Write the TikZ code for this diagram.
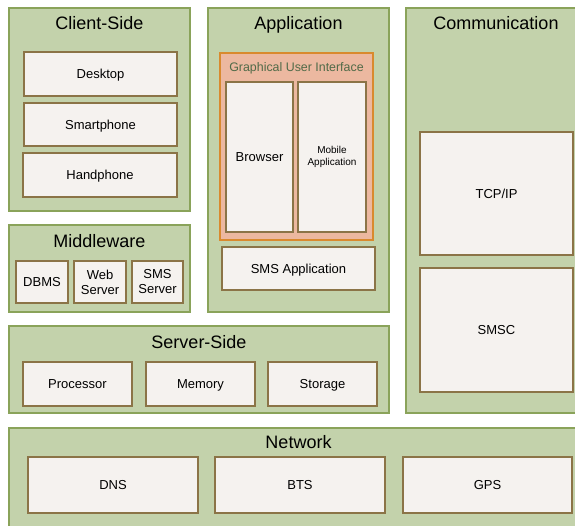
\documentclass[tikz,border=0pt]{standalone}
\usepackage{fontspec}
\setmainfont{Liberation Sans}
\usetikzlibrary{fit}
\definecolor{grpfill}{HTML}{C3D2AB}
\definecolor{grpline}{HTML}{8AA35A}
\definecolor{itemfill}{HTML}{F5F2EF}
\definecolor{itemline}{HTML}{8B7447}
\definecolor{guifill}{HTML}{ECB8A0}
\definecolor{guiline}{HTML}{D98A2E}
\definecolor{guitext}{HTML}{506A48}
\tikzset{
  grp/.style={draw=grpline, fill=grpfill, line width=1.3pt, inner sep=0pt},
  item/.style={draw=itemline, fill=itemfill, line width=1.3pt, inner sep=0pt},
  itemtext/.style={font=\fontsize{13}{15}\selectfont, anchor=base, inner sep=0pt, yshift=-4.6pt},
  twoline/.style={font=\fontsize{13}{15}\selectfont, align=center, inner sep=0pt},
  smalltext/.style={font=\fontsize{10}{12}\selectfont, align=center, inner sep=0pt},
  gui/.style={draw=guiline, fill=guifill, line width=1.3pt, inner sep=0pt},
  grptitle/.style={font=\fontsize{18}{21}\selectfont, anchor=base, inner sep=0pt},
}
\begin{document}
\begin{tikzpicture}[x=1pt, y=-1pt]
\useasboundingbox (0,0) rectangle (575,525);
\begin{scope}
\clip (0,0) rectangle (575,525);
% Client side
\node[grp, fit={(9,8) (190,211)}] (client) {};
\node[grptitle] (clientT) at (99.5,29) {Client-Side};
\node[item, fit={(24,52) (177,96)}] (desktop) {};
\node[itemtext] (desktopT) at (desktop.center) {Desktop};
\node[item, fit={(24,103) (177,146)}] (smart) {};
\node[itemtext] (smartT) at (smart.center) {Smartphone};
\node[item, fit={(23,153) (177,197)}] (hand) {};
\node[itemtext] (handT) at (hand.center) {Handphone};
% Application
\node[grp, fit={(208,8) (389,312)}] (app) {};
\node[grptitle] (appT) at (298.5,29) {Application};
\node[gui, fit={(220,53) (373,240)}] (gui) {};
\node[font=\fontsize{12.4}{14}\selectfont, text=guitext, anchor=base, inner sep=0pt] (guiT) at (296.5,71) {Graphical User Interface};
\node[item, fit={(226,82) (293,232)}] (browser) {};
\node[itemtext] (browserT) at (browser.center) {Browser};
\node[item, fit={(298,82) (366,232)}] (mobile) {};
\node[smalltext] (mobileT) at (mobile.center) {Mobile\\Application};
\node[item, fit={(222,247) (375,290)}] (smsapp) {};
\node[itemtext] (smsappT) at (smsapp.center) {SMS Application};
% Communication
\node[grp, fit={(406,8) (582,413)}] (comm) {};
\node[grptitle] (commT) at (496,29) {Communication};
\node[item, fit={(420,132) (573,255)}] (tcp) {};
\node[itemtext] (tcpT) at (tcp.center) {TCP/IP};
\node[item, fit={(420,268) (573,392)}] (smsc) {};
\node[itemtext] (smscT) at (smsc.center) {SMSC};
% Middleware
\node[grp, fit={(9,225) (190,312)}] (mid) {};
\node[grptitle] (midT) at (99.5,247) {Middleware};
\node[item, fit={(16,261) (68,303)}] (dbms) {};
\node[itemtext] (dbmsT) at (dbms.center) {DBMS};
\node[item, fit={(74,261) (126,303)}] (web) {};
\node[twoline] (webT) at (web.center) {Web\\Server};
\node[item, fit={(132,261) (183,303)}] (smsserver) {};
\node[twoline] (smsserverT) at (smsserver.center) {SMS\\Server};
% Server side
\node[grp, fit={(9,326) (389,413)}] (server) {};
\node[grptitle] (serverT) at (199,348) {Server-Side};
\node[item, fit={(23,362) (132,406)}] (proc) {};
\node[itemtext] (procT) at (proc.center) {Processor};
\node[item, fit={(146,362) (255,406)}] (mem) {};
\node[itemtext] (memT) at (mem.center) {Memory};
\node[item, fit={(268,362) (377,406)}] (stor) {};
\node[itemtext] (storT) at (stor.center) {Storage};
% Network
\node[grp, fit={(9,428) (582,532)}] (net) {};
\node[grptitle] (netT) at (298.5,448) {Network};
\node[item, fit={(28,457) (198,513)}] (dns) {};
\node[itemtext] (dnsT) at (dns.center) {DNS};
\node[item, fit={(215,457) (385,513)}] (bts) {};
\node[itemtext] (btsT) at (bts.center) {BTS};
\node[item, fit={(403,457) (572,513)}] (gps) {};
\node[itemtext] (gpsT) at (gps.center) {GPS};
\end{scope}
\end{tikzpicture}
\end{document}
